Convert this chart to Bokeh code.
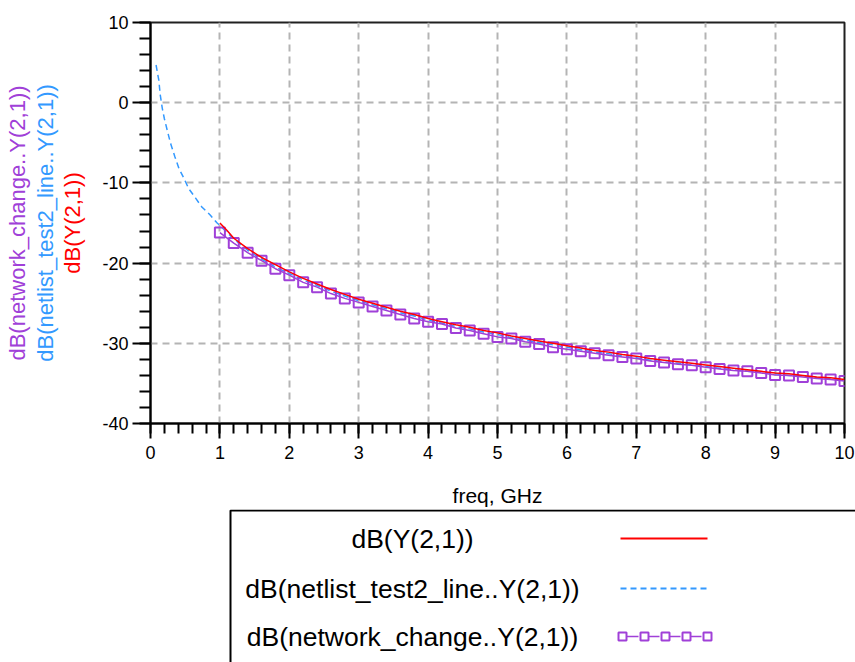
from bokeh.plotting import figure
from bokeh.models import (SingleIntervalTicker, Range1d, LinearAxis, FixedTicker,
                          PrintfTickFormatter)
from bokeh.embed import file_html
from bokeh.resources import INLINE
from bokeh.core.properties import value

# ---------------- data ----------------
freq_red = [1.0, 1.1, 1.2, 1.4, 1.6, 1.8, 2.0, 2.2, 2.4, 2.6, 2.8, 3.0, 3.2, 3.4, 3.6, 3.8,
            4.0, 4.2, 4.4, 4.6, 4.8, 5.0, 5.2, 5.4, 5.6, 5.8, 6.0, 6.2, 6.4, 6.6, 6.8,
            7.0, 7.2, 7.4, 7.6, 7.8, 8.0, 8.2, 8.4, 8.6, 8.8, 9.0, 9.2, 9.4, 9.6, 9.8, 10.0]
db_red = [-15.0, -15.9, -16.9, -18.2, -19.3, -20.2, -21.1, -21.9, -22.6, -23.3, -23.9, -24.5,
          -25.0, -25.5, -26.0, -26.4, -26.9, -27.3, -27.7, -28.0, -28.4, -28.7, -29.1, -29.4,
          -29.7, -30.0, -30.3, -30.6, -30.9, -31.1, -31.4, -31.6, -31.9, -32.1, -32.3, -32.5,
          -32.7, -32.9, -33.1, -33.3, -33.5, -33.7, -33.8, -34.0, -34.2, -34.3, -34.5]

freq_blue = [0.08, 0.12, 0.14, 0.17, 0.20, 0.24, 0.29, 0.35, 0.41, 0.48, 0.55, 0.65, 0.74,
             0.86, 0.96, 1.0, 1.2, 1.4, 1.6, 1.8, 2.0, 2.2, 2.4, 2.6, 2.8, 3.0, 3.2, 3.4,
             3.6, 3.8, 4.0, 4.2, 4.4, 4.6, 4.8, 5.0, 5.2, 5.4, 5.6, 5.8, 6.0, 6.2, 6.4,
             6.6, 6.8, 7.0, 7.2, 7.4, 7.6, 7.8, 8.0, 8.2, 8.4, 8.6, 8.8, 9.0, 9.2, 9.4,
             9.6, 9.8, 10.0]
db_blue = [4.7, 2.8, 1.0, -0.7, -2.0, -3.4, -5.1, -6.7, -8.2, -9.4, -10.7, -11.9, -13.0,
           -14.0, -15.0, -15.3, -17.0, -18.4, -19.5, -20.5, -21.3, -22.1, -22.8, -23.5,
           -24.1, -24.7, -25.2, -25.7, -26.2, -26.6, -27.1, -27.5, -27.9, -28.2, -28.6,
           -28.9, -29.3, -29.6, -29.9, -30.2, -30.5, -30.8, -31.1, -31.3, -31.6, -31.8,
           -32.1, -32.3, -32.5, -32.7, -32.9, -33.1, -33.3, -33.5, -33.6, -33.8, -34.0,
           -34.1, -34.3, -34.4, -34.6]

freq_purple = [1.0, 1.2, 1.4, 1.6, 1.8, 2.0, 2.2, 2.4, 2.6, 2.8, 3.0, 3.2, 3.4, 3.6, 3.8,
               4.0, 4.2, 4.4, 4.6, 4.8, 5.0, 5.2, 5.4, 5.6, 5.8, 6.0, 6.2, 6.4, 6.6, 6.8,
               7.0, 7.2, 7.4, 7.6, 7.8, 8.0, 8.2, 8.4, 8.6, 8.8, 9.0, 9.2, 9.4, 9.6, 9.8, 10.0]
db_purple = [-16.2, -17.5, -18.7, -19.7, -20.7, -21.5, -22.4, -23.0, -23.8, -24.4, -24.9,
             -25.4, -25.9, -26.4, -26.9, -27.3, -27.6, -28.1, -28.4, -28.8, -29.2, -29.4,
             -29.8, -30.1, -30.5, -30.75, -31.0, -31.25, -31.5, -31.7, -31.9, -32.2, -32.4,
             -32.6, -32.75, -33.0, -33.2, -33.4, -33.5, -33.7, -33.95, -34.0, -34.2, -34.4,
             -34.5, -34.7]

series_names = ["dB(Y(2,1))", "dB(netlist_test2_line..Y(2,1))", "dB(network_change..Y(2,1))"]
series_colors = ["#ff0000", "#3399ff", "#a040d8"]
x_label = "freq, GHz"
x_range_vals = (0, 10)
y_range_vals = (-40, 10)

FONT = "Liberation Sans"

# ---------------- main chart ----------------
LEFT, TOP, FW, FH, BOT = 150, 22, 694, 401, 85
W = 855
p = figure(frame_width=FW, frame_height=FH,
           x_range=Range1d(*x_range_vals), y_range=Range1d(*y_range_vals),
           output_backend="svg", toolbar_location=None,
           min_border_left=LEFT, min_border_right=W - LEFT - FW, min_border_top=TOP,
           min_border_bottom=BOT)
p.background_fill_color = "white"
p.border_fill_color = "white"
p.outline_line_color = "#202020"
p.outline_line_width = 2

p.xaxis.ticker = SingleIntervalTicker(interval=1, num_minor_ticks=5)
p.yaxis.ticker = SingleIntervalTicker(interval=10, num_minor_ticks=5)
p.yaxis.formatter = PrintfTickFormatter(format="%d")
for ax in (p.xaxis, p.yaxis):
    ax.axis_line_color = "black"
    ax.axis_line_width = 2
    ax.major_tick_line_color = "black"
    ax.major_tick_line_width = 2
    ax.minor_tick_line_color = "black"
    ax.minor_tick_line_width = 2
    ax.major_tick_in = 0
    ax.minor_tick_in = 0
    ax.major_label_text_font = FONT
    ax.major_label_text_font_size = "18px"
    ax.major_label_text_color = "black"
p.xaxis.major_label_standoff = 7
p.yaxis.major_label_standoff = 4
p.xaxis.major_tick_out = 15
p.xaxis.minor_tick_out = 10
p.yaxis.major_tick_out = 18
p.yaxis.minor_tick_out = 11

p.xaxis.axis_label = x_label
p.xaxis.axis_label_text_font = FONT
p.xaxis.axis_label_text_font_size = "21px"
p.xaxis.axis_label_text_font_style = "normal"
p.xaxis.axis_label_text_color = "black"
p.xaxis.axis_label_standoff = 22


def style_ylabel(ax, text, color, standoff):
    ax.axis_label = text
    ax.axis_label_text_font = FONT
    ax.axis_label_text_font_size = "22px"
    ax.axis_label_text_font_style = "normal"
    ax.axis_label_text_color = color
    ax.axis_label_standoff = standoff


# red label on the real y axis, blue and purple on bare extra axes further out
style_ylabel(p.yaxis[0], series_names[0], series_colors[0], 14)
for idx in (1, 2):
    ax = LinearAxis(ticker=FixedTicker(ticks=[]), axis_line_color=None,
                    major_tick_out=0, major_tick_in=0, minor_tick_out=0, minor_tick_in=0,
                    major_label_standoff=0)
    style_ylabel(ax, series_names[idx], series_colors[idx], 0)
    p.add_layout(ax, "left")

for g in (p.xgrid, p.ygrid):
    g.grid_line_color = "#b4b4b4"
    g.grid_line_width = 2
    g.grid_line_dash = "7 5"

p.line(freq_blue, db_blue, line_color=series_colors[1], line_width=1.5, line_dash="6 4")
p.line(freq_purple, db_purple, line_color=series_colors[2], line_width=1.5)
p.scatter(freq_purple, db_purple, marker="square", size=10, line_color=series_colors[2],
          line_width=2, fill_color=None)
p.line(freq_red, db_red, line_color=series_colors[0], line_width=1.5)

# ---------------- legend panel (separate root below the chart) ----------------
H1 = TOP + FH + BOT
H2 = 662 - H1
p2 = figure(width=W, height=H2, x_range=Range1d(0, W), y_range=Range1d(H2, 0),
            output_backend="svg", toolbar_location=None,
            min_border_left=0, min_border_right=0, min_border_top=0, min_border_bottom=0,
            x_axis_type=None, y_axis_type=None)
p2.outline_line_color = None
p2.grid.visible = False
p2.background_fill_color = "white"
p2.border_fill_color = "white"

off = H1
p2.quad(left=[230], right=[W + 40], top=[509 - off], bottom=[H2 + 20],
        fill_color="white", line_color="black", line_width=2)
row_y = [537 - off, 587 - off, 635 - off]
p2.text(x=[412] * 3, y=row_y, text=series_names, text_font=value(FONT),
        text_font_size=value("26.5px"), text_align="center", text_baseline="middle",
        text_color="black")
p2.line([620, 707], [row_y[0], row_y[0]], line_color=series_colors[0], line_width=2)
p2.line([620, 707], [row_y[1], row_y[1]], line_color=series_colors[1], line_width=2,
        line_dash="6 4")
p2.line([622, 707], [row_y[2], row_y[2]], line_color=series_colors[2], line_width=1.5,
        line_dash="16 5")
p2.scatter([622, 644, 665, 686, 707], [row_y[2]] * 5, marker="square", size=8,
           line_color=series_colors[2], line_width=2, fill_color="white")

open("out.html", "w").write(file_html([p, p2], INLINE))
